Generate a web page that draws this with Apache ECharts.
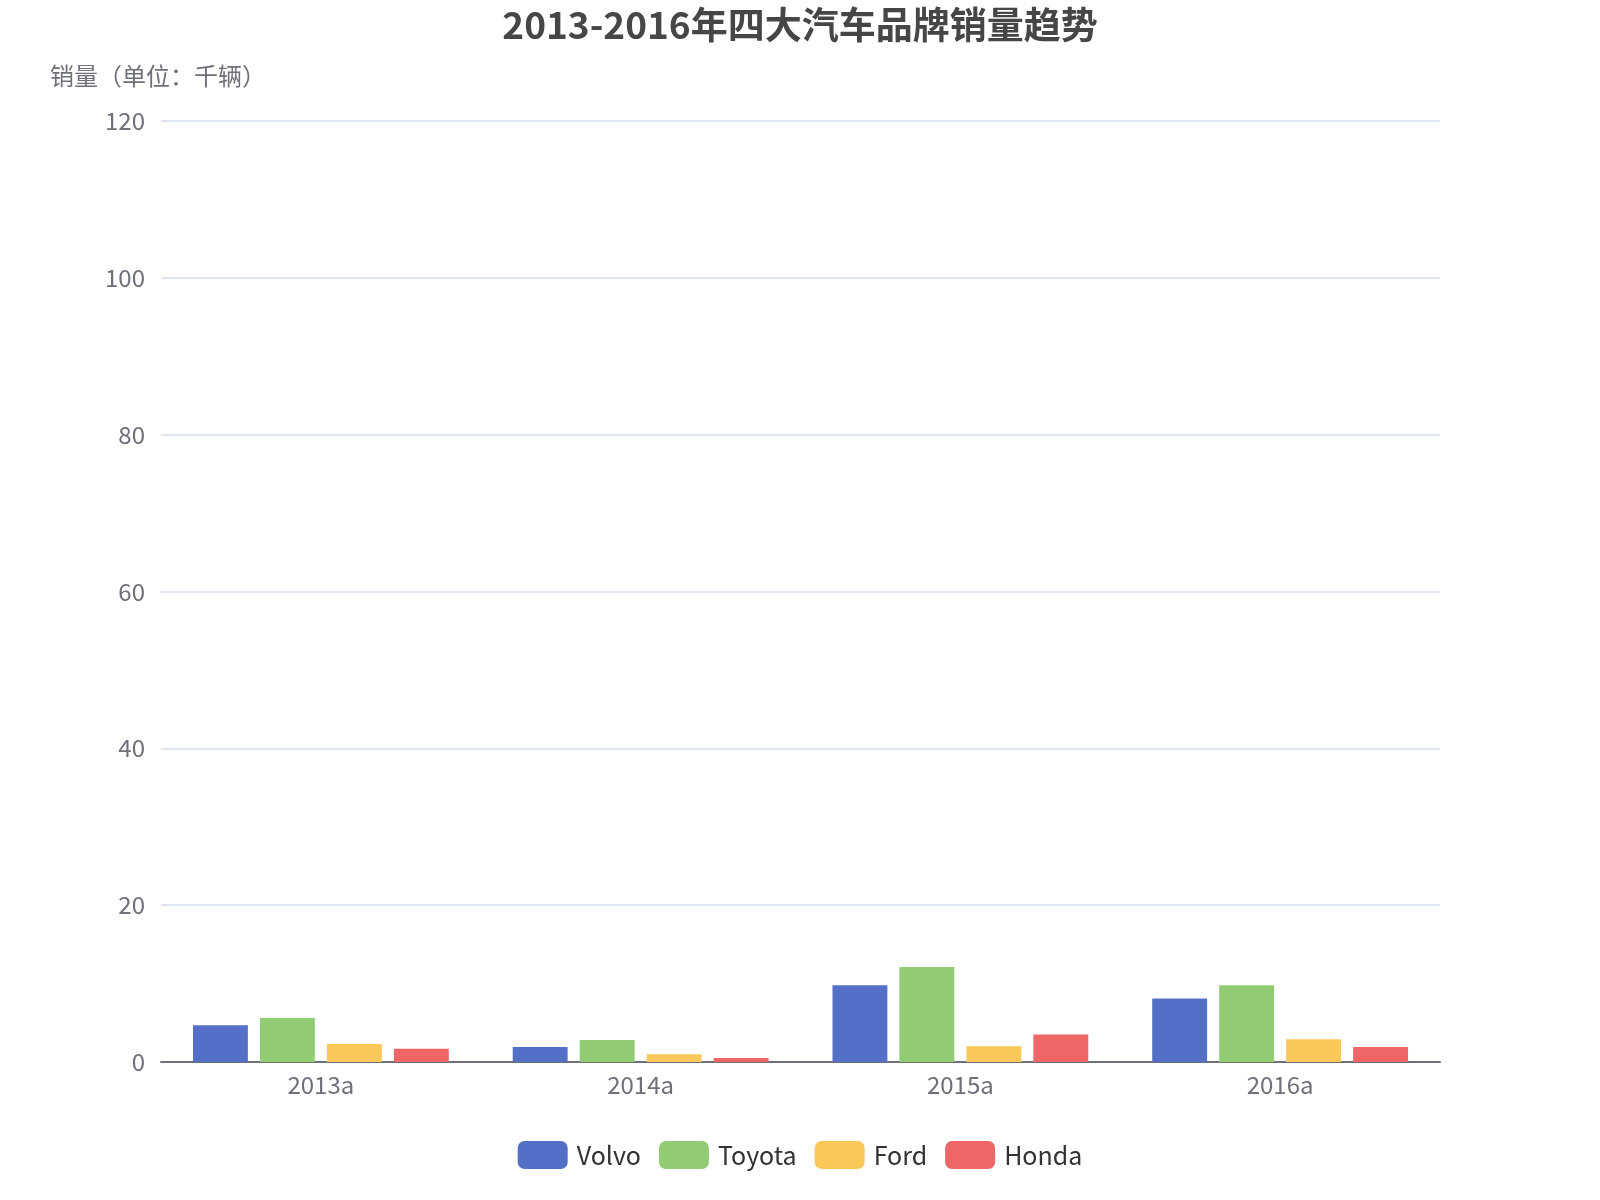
<!DOCTYPE html>
<html><head><meta charset="utf-8">
<script src="https://cdn.jsdelivr.net/npm/echarts@6/dist/echarts.min.js"></script>
<style>html,body{margin:0;padding:0;background:#fff}#c{width:1600px;height:1200px}</style>
</head><body><div id="c"></div>
<script>
const categories = ['2013a', '2014a', '2015a', '2016a'];
const volvo = [4.7, 1.9, 9.8, 8.1];
const toyota = [5.6, 2.8, 12.1, 9.8];
const ford = [2.3, 1.0, 2.0, 2.9];
const honda = [1.7, 0.5, 3.5, 1.9];
const seriesNames = ['Volvo', 'Toyota', 'Ford', 'Honda'];
const seriesData = [volvo, toyota, ford, honda];
const colors = ['#5470c6', '#91cc75', '#fac858', '#ee6666'];
const font = '"Microsoft YaHei","Noto Sans CJK SC","Noto Sans",sans-serif';

const chart = echarts.init(document.getElementById('c'));
chart.setOption({
  color: colors,
  textStyle: { fontFamily: font },
  title: {
    text: '2013-2016年四大汽车品牌销量趋势',
    left: 'center', top: 1,
    textStyle: { fontSize: 37, fontWeight: 'bold', color: '#464646', fontFamily: font }
  },
  legend: {
    data: seriesNames,
    bottom: 26, left: 'center',
    itemWidth: 50, itemHeight: 28, itemGap: 18,
    textStyle: { fontSize: 25, color: '#333', fontFamily: font, padding: [0, 0, 0, 4] }
  },
  grid: { left: 161, right: 160, top: 121, bottom: 138 },
  xAxis: {
    type: 'category', data: categories,
    axisLine: { lineStyle: { color: '#6E7079', width: 2 } },
    axisTick: { length: 10, lineStyle: { width: 2 } },
    axisLabel: { fontSize: 24, color: '#6E7079', margin: 11 }
  },
  yAxis: {
    type: 'value', min: 0, max: 120, interval: 20,
    name: '销量（单位：千辆）',
    nameLocation: 'end', nameGap: 33,
    nameTextStyle: { fontSize: 24, color: '#6E7079', align: 'center', padding: [0, 6, 0, 0] },
    axisLabel: { fontSize: 24, color: '#6E7079', margin: 16 },
    splitLine: { lineStyle: { color: '#E0E6F1', width: 2 } }
  },
  series: seriesNames.map((n, i) => ({
    name: n, type: 'bar', data: seriesData[i],
    barGap: '22%', barCategoryGap: '20%'
  }))
});
</script></body></html>
